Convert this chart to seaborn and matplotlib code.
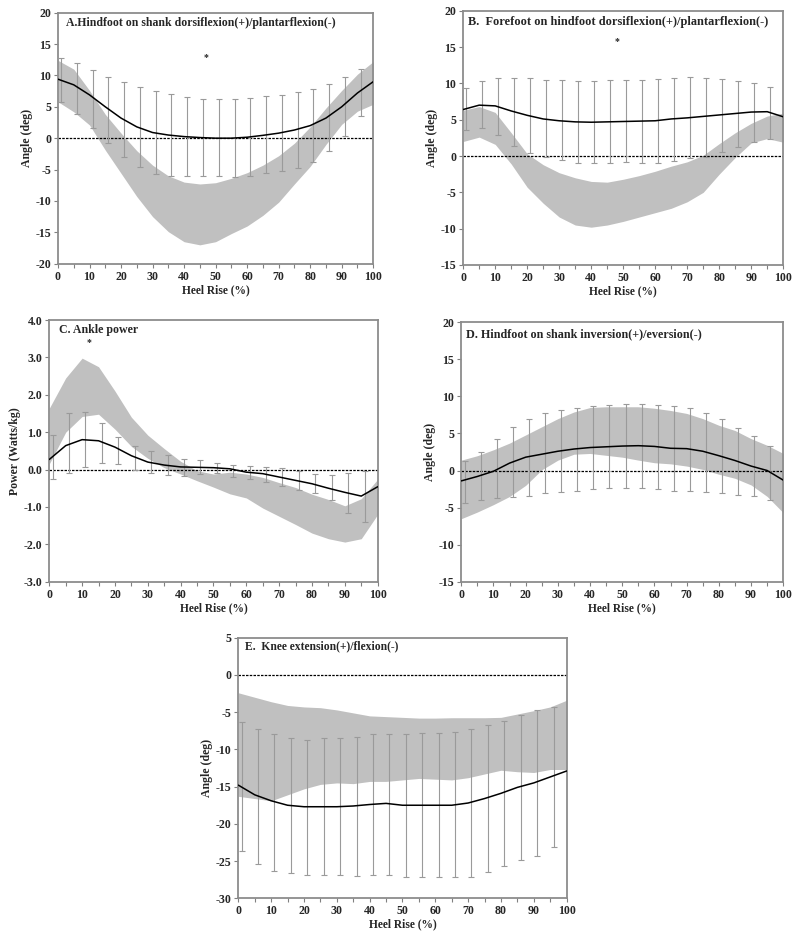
import numpy as np
import pandas as pd
import matplotlib
matplotlib.use("Agg")
import matplotlib.pyplot as plt
import seaborn as sns

sns.set_theme(style="white")
plt.rcParams["font.family"] = ["Liberation Serif", "DejaVu Serif"]
plt.rcParams["font.weight"] = "bold"
plt.rcParams["axes.unicode_minus"] = False

# ---------------- data ----------------
heel_rise = [0, 5, 10, 15, 20, 25, 30, 35, 40, 45, 50, 55, 60, 65, 70, 75, 80, 85, 90, 95, 100]
bar_x = [1, 6, 11, 16, 21, 26, 31, 36, 41, 46, 51, 56, 61, 66, 71, 76, 81, 86, 91, 96]

# A. hindfoot on shank dorsi/plantarflexion
a_mean = [9.4, 8.5, 6.9, 5.0, 3.2, 1.8, 0.9, 0.5, 0.25, 0.1, 0.0, 0.0, 0.15, 0.45, 0.8, 1.3, 2.0, 3.2, 5.0, 7.2, 9.0]
a_band_hi = [12.4, 11.0, 7.6, 3.8, 0.8, -2.0, -4.3, -6.0, -7.0, -7.3, -7.1, -6.4, -5.5, -4.3, -2.8, -0.8, 1.8, 4.8, 7.6, 10.2, 12.2]
a_band_lo = [5.8, 4.2, 2.1, -1.9, -5.6, -9.3, -12.5, -14.9, -16.5, -17.0, -16.5, -15.2, -14.0, -12.3, -10.2, -7.3, -4.5, -1.0, 2.2, 4.3, 5.4]
a_bar_hi = [12.8, 12.0, 10.9, 9.7, 8.9, 8.2, 7.5, 7.1, 6.5, 6.3, 6.3, 6.2, 6.4, 6.7, 6.9, 7.3, 7.9, 8.6, 9.7, 11.0]
a_bar_lo = [5.7, 3.9, 1.7, -0.8, -3.0, -4.6, -5.7, -6.1, -6.1, -6.1, -6.1, -6.2, -6.0, -5.6, -5.3, -4.7, -3.8, -2.1, 0.4, 3.5]

# B. forefoot on hindfoot dorsi/plantarflexion
b_mean = [6.4, 7.0, 6.9, 6.2, 5.6, 5.1, 4.85, 4.7, 4.65, 4.7, 4.75, 4.8, 4.85, 5.1, 5.25, 5.45, 5.65, 5.85, 6.05, 6.1, 5.4]
b_band_hi = [6.3, 6.8, 6.0, 3.2, 0.3, -1.2, -2.3, -3.0, -3.5, -3.6, -3.2, -2.7, -2.1, -1.4, -0.8, 0.1, 1.7, 3.2, 4.5, 5.5, 5.9]
b_band_lo = [2.0, 2.6, 1.6, -1.1, -4.3, -6.5, -8.4, -9.5, -9.8, -9.5, -9.0, -8.4, -7.8, -7.2, -6.3, -5.0, -2.5, -0.2, 1.8, 2.4, 1.9]
b_bar_hi = [9.3, 10.3, 10.7, 10.8, 10.7, 10.5, 10.4, 10.3, 10.3, 10.5, 10.4, 10.4, 10.6, 10.8, 10.9, 10.8, 10.6, 10.3, 10.1, 9.5]
b_bar_lo = [3.6, 3.8, 2.9, 1.4, 0.4, -0.2, -0.6, -0.9, -0.9, -0.9, -0.8, -0.9, -0.9, -0.7, -0.3, -0.1, 0.6, 1.3, 1.9, 2.4]

# C. ankle power
c_mean = [0.27, 0.64, 0.80, 0.77, 0.60, 0.37, 0.20, 0.12, 0.07, 0.06, 0.05, 0.02, -0.07, -0.11, -0.20, -0.29, -0.38, -0.50, -0.61, -0.71, -0.46]
c_band_hi = [1.64, 2.45, 2.98, 2.75, 2.10, 1.40, 0.92, 0.56, 0.22, -0.03, -0.12, -0.07, -0.12, -0.21, -0.35, -0.48, -0.66, -0.80, -0.97, -0.78, -0.26]
c_band_lo = [0.15, 1.00, 1.42, 1.48, 1.08, 0.62, 0.30, 0.05, -0.12, -0.30, -0.47, -0.65, -0.76, -1.03, -1.25, -1.47, -1.70, -1.85, -1.94, -1.85, -1.20]
c_bar_hi = [0.92, 1.50, 1.55, 1.24, 0.88, 0.64, 0.50, 0.39, 0.28, 0.25, 0.17, 0.13, 0.09, 0.06, 0.03, -0.03, -0.12, -0.15, -0.10, -0.03]
c_bar_lo = [-0.26, -0.10, 0.06, 0.17, 0.14, 0.00, -0.08, -0.14, -0.16, -0.12, -0.09, -0.19, -0.26, -0.33, -0.44, -0.56, -0.64, -0.82, -1.16, -1.40]

# D. hindfoot on shank inversion/eversion
d_mean = [-1.4, -0.8, -0.1, 1.0, 1.8, 2.2, 2.6, 2.9, 3.1, 3.2, 3.3, 3.35, 3.25, 3.0, 2.95, 2.6, 2.0, 1.35, 0.6, 0.0, -1.3]
d_band_hi = [1.4, 2.0, 2.8, 3.7, 4.8, 5.9, 7.0, 7.9, 8.5, 8.6, 8.6, 8.6, 8.4, 8.1, 7.7, 7.0, 6.1, 5.4, 4.3, 3.4, 2.3]
d_band_lo = [-6.5, -5.6, -4.6, -3.5, -2.0, 0.1, 1.4, 2.2, 2.3, 2.05, 1.8, 1.4, 1.05, 0.9, 0.6, 0.15, -0.5, -1.05, -1.95, -3.5, -5.7]
d_bar_hi = [1.3, 2.5, 4.2, 5.9, 7.0, 7.7, 8.2, 8.5, 8.7, 8.8, 9.0, 9.0, 8.9, 8.7, 8.4, 7.8, 6.9, 5.8, 4.7, 3.3]
d_bar_lo = [-4.4, -4.0, -3.7, -3.6, -3.4, -3.0, -2.9, -2.7, -2.5, -2.4, -2.4, -2.4, -2.5, -2.8, -2.8, -2.9, -3.1, -3.3, -3.5, -4.0]

# E. knee extension/flexion
e_mean = [-14.8, -16.1, -16.9, -17.5, -17.7, -17.7, -17.7, -17.6, -17.4, -17.25, -17.5, -17.5, -17.5, -17.5, -17.2, -16.6, -15.9, -15.1, -14.5, -13.7, -12.9]
e_band_hi = [-2.4, -3.0, -3.6, -4.1, -4.3, -4.4, -4.7, -5.1, -5.5, -5.6, -5.7, -5.8, -5.8, -5.75, -5.75, -5.75, -5.7, -5.25, -4.8, -4.3, -3.4]
e_band_lo = [-16.3, -16.6, -16.9, -16.1, -15.3, -14.7, -14.5, -14.6, -14.3, -14.3, -14.1, -13.9, -14.0, -14.1, -13.8, -13.3, -12.8, -13.0, -13.1, -12.7, -12.7]
e_bar_hi = [-6.3, -7.3, -7.9, -8.5, -8.7, -8.5, -8.5, -8.3, -8.0, -7.9, -8.0, -7.8, -7.8, -7.6, -7.3, -6.7, -6.2, -5.4, -4.7, -4.3]
e_bar_lo = [-23.7, -25.4, -26.3, -26.6, -26.8, -26.8, -26.9, -27.0, -26.8, -26.9, -27.2, -27.2, -27.2, -27.2, -27.1, -26.4, -25.7, -24.8, -24.3, -23.1]

titles = [
    "A.Hindfoot on shank dorsiflexion(+)/plantarflexion(-)",
    "B.  Forefoot on hindfoot dorsiflexion(+)/plantarflexion(-)",
    "C. Ankle power",
    "D. Hindfoot on shank inversion(+)/eversion(-)",
    "E.  Knee extension(+)/flexion(-)",
]
ylabels = ["Angle (deg)", "Angle (deg)", "Power (Watts/kg)", "Angle (deg)", "Angle (deg)"]
ylims = [(-20, 20), (-15, 20), (-3, 4), (-15, 20), (-30, 5)]
ysteps = [5, 5, 1, 5, 5]
# star marking significant differences: (x, y) or None
stars = [(47, 12.8), (48, 15.7), (12, 3.4), None, None]

panels = [
    (a_mean, a_band_hi, a_band_lo, a_bar_hi, a_bar_lo),
    (b_mean, b_band_hi, b_band_lo, b_bar_hi, b_bar_lo),
    (c_mean, c_band_hi, c_band_lo, c_bar_hi, c_bar_lo),
    (d_mean, d_band_hi, d_band_lo, d_bar_hi, d_bar_lo),
    (e_mean, e_band_hi, e_band_lo, e_bar_hi, e_bar_lo),
]

# axes boxes in figure fractions [left, bottom, width, height]
boxes = [
    [0.0725, 0.7192, 0.394, 0.2673],
    [0.579, 0.7178, 0.400, 0.2708],
    [0.0616, 0.3805, 0.4105, 0.2787],
    [0.5766, 0.3805, 0.4025, 0.2763],
    [0.2979, 0.0433, 0.4104, 0.2776],
]
title_pos = [(0.025, 0.958), (0.016, 0.957), (0.029, 0.962), (0.015, 0.955), (0.02, 0.967)]
title_size = [8.5, 8.9, 8.6, 8.7, 8.4]

fig = plt.figure(figsize=(8, 9.39), dpi=100)

for i, (mean, band_hi, band_lo, bar_hi, bar_lo) in enumerate(panels):
    ax = fig.add_axes(boxes[i])
    ax.fill_between(heel_rise, band_lo, band_hi, color="#c0c0c0", lw=0, zorder=1)
    ax.axhline(0, color="black", ls=(0, (2, 1)), lw=0.9, zorder=2)
    hi = np.array(bar_hi)
    lo = np.array(bar_lo)
    ax.errorbar(bar_x, (hi + lo) / 2, yerr=(hi - lo) / 2, fmt="none",
                ecolor="#9a9a9a", elinewidth=0.8, capsize=2, capthick=0.8, zorder=3)
    df = pd.DataFrame({"Heel Rise": heel_rise, "value": mean})
    sns.lineplot(data=df, x="Heel Rise", y="value", ax=ax, color="black", lw=1.1, zorder=4)

    ax.set_xlim(0, 100)
    ax.set_ylim(*ylims[i])
    ax.set_xticks(range(0, 101, 10))
    ax.set_xticks(range(5, 100, 10), minor=True)
    lo_y, hi_y = ylims[i]
    yt = np.arange(lo_y, hi_y + ysteps[i] / 2, ysteps[i])
    ax.set_yticks(yt)
    if ysteps[i] == 1:
        ax.set_yticklabels([f"{v:.1f}" for v in yt])
    else:
        ax.set_yticklabels([f"{v:.0f}" for v in yt])
    ax.tick_params(axis="both", which="both", direction="out", length=3, width=0.8,
                   color="#808080", labelsize=8.6, pad=2, bottom=True, left=True)
    for s in ax.spines.values():
        s.set_color("#8c8c8c")
        s.set_linewidth(1.3)
    ax.set_xlabel("Heel Rise (%)", fontsize=8.3, fontweight="bold", labelpad=1)
    ax.set_ylabel(ylabels[i], fontsize=8.5, fontweight="bold", labelpad=2)
    ax.text(title_pos[i][0], title_pos[i][1], titles[i], transform=ax.transAxes,
            fontsize=title_size[i], fontweight="bold", va="center", ha="left")
    if stars[i] is not None:
        ax.text(stars[i][0], stars[i][1], "*", fontsize=7, ha="center", va="center")

fig.savefig("out.png", dpi=100)
